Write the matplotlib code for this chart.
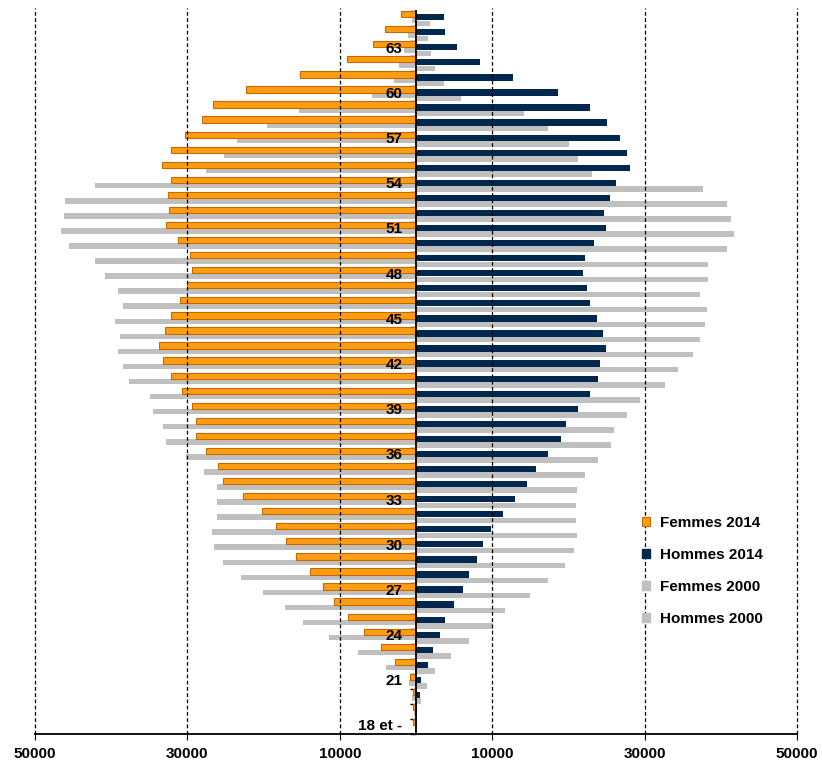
import matplotlib
matplotlib.use('Agg')
import matplotlib.pyplot as plt
from matplotlib.patches import Patch
from matplotlib.ticker import FuncFormatter
import numpy as np

plt.rcParams['font.family'] = ['Liberation Sans', 'DejaVu Sans']

# ---- data (ages 18 .. 65) ----
ages = list(range(18, 66))
age_tick_ages = list(range(18, 66, 3))
age_tick_labels = ['18 et -' if a == 18 else str(a) for a in age_tick_ages]

femmes_2014 = [440, 350, 390, 740, 2710, 4590, 6870, 8880, 10800, 12250,
               13910, 15790, 17100, 18420, 20250, 22750, 25330, 26030, 27560, 28870,
               28870, 29440, 30750, 32190, 33160, 33720, 32980, 32190, 30920, 30010,
               29440, 29610, 31270, 32760, 32410, 32590, 32190, 33330, 32190, 30360,
               28130, 26590, 22310, 15220, 9100, 5690, 4020, 1970]

femmes_2000 = [90, 220, 530, 960, 3890, 7660, 11370, 14870, 17150, 20120,
               22920, 25370, 26460, 26810, 26110, 26110, 26110, 27780, 30220, 32810,
               33200, 34510, 34860, 37660, 38400, 39150, 38800, 39540, 38400, 39150,
               40810, 42120, 45490, 46630, 46230, 46060, 42120, 27600, 25150, 23530,
               19600, 15310, 5770, 2930, 2190, 1530, 1090, 530]

hommes_2014 = [20, 90, 480, 700, 1630, 2200, 3120, 3870, 5010, 6110,
               6900, 8000, 8750, 9890, 11380, 13050, 14550, 15690, 17360, 19070,
               19650, 21320, 22810, 23950, 24130, 24880, 24480, 23730, 22810, 22460,
               21890, 22240, 23380, 24880, 24700, 25450, 26190, 28080, 27690, 26770,
               25050, 22810, 18680, 12700, 8350, 5360, 3870, 3690]

hommes_2000 = [20, 90, 700, 1450, 2550, 4620, 6900, 10070, 11740, 14940,
               17360, 19600, 20740, 21140, 20960, 20960, 21140, 22240, 23950, 25620,
               26020, 27690, 29360, 32740, 34410, 36300, 37230, 37970, 38190, 37230,
               38370, 38370, 40790, 41710, 41360, 40790, 37620, 23160, 21320, 20130,
               17360, 14200, 5930, 3690, 2550, 2020, 1630, 1800]

series_names = ['Femmes 2014', 'Hommes 2014', 'Femmes 2000', 'Hommes 2000']
x_ticks = [-50000, -30000, -10000, 10000, 30000, 50000]

# ---- style ----
ORANGE = '#FF9D12'
ORANGE_EDGE = '#C46A00'
NAVY = '#00284F'
GREY = '#C0C0C0'

fig = plt.figure(figsize=(8.22, 7.63), dpi=100)
ax = fig.add_axes([35 / 822, 29 / 763, 762 / 822, 723 / 763])

y = np.arange(len(ages))
ax.barh(y - 0.101, -np.array(femmes_2000), height=0.366, color=GREY, zorder=2)
ax.barh(y + 0.291, -np.array(femmes_2014), height=0.418, color=ORANGE,
        edgecolor=ORANGE_EDGE, linewidth=0.8, zorder=3)
ax.barh(y - 0.314, np.array(hommes_2000), height=0.365, color=GREY, zorder=2)
ax.barh(y + 0.091, np.array(hommes_2014), height=0.418, color=NAVY, zorder=3)

ax.set_xlim(-50000, 50000)
ax.set_ylim(-0.5, len(ages) - 0.5)

for xv in x_ticks:
    ax.plot([xv, xv], [-0.5, len(ages) - 0.3], color='black', lw=0.9,
            ls=(0, (3, 2)), zorder=4, clip_on=False)

for s in ['top', 'right']:
    ax.spines[s].set_visible(False)
ax.spines['left'].set_position(('data', 0))
ax.spines['left'].set_linewidth(1.3)
ax.spines['left'].set_zorder(6)
ax.spines['bottom'].set_linewidth(1.3)

ax.set_xticks(x_ticks)
ax.xaxis.set_major_formatter(FuncFormatter(lambda v, p: f'{abs(int(v))}'))
ax.tick_params(axis='x', length=4, direction='out', labelsize=11, pad=5)
for lab in ax.get_xticklabels():
    lab.set_fontweight('bold')

ax.set_yticks(np.arange(-0.5, len(ages), 1.0))
ax.set_yticklabels([])
ax.tick_params(axis='y', length=4, direction='out', width=1.0)

for a, lab in zip(age_tick_ages, age_tick_labels):
    ax.text(-1800, ages.index(a), lab, ha='right', va='center',
            fontsize=11, fontweight='bold', zorder=7)

handles = [Patch(facecolor=ORANGE, edgecolor=ORANGE_EDGE, linewidth=0.8),
           Patch(facecolor=NAVY, edgecolor=NAVY),
           Patch(facecolor=GREY, edgecolor=GREY),
           Patch(facecolor=GREY, edgecolor=GREY)]
leg = ax.legend(handles, series_names, loc='upper left',
                bbox_to_anchor=(642 / 822, 1 - 516 / 763),
                bbox_transform=fig.transFigure, frameon=False,
                handlelength=0.55, handleheight=0.55, handletextpad=0.6,
                labelspacing=1.17, borderpad=0, borderaxespad=0,
                prop={'size': 11, 'weight': 'bold'})

fig.savefig('out.png', dpi=100)
